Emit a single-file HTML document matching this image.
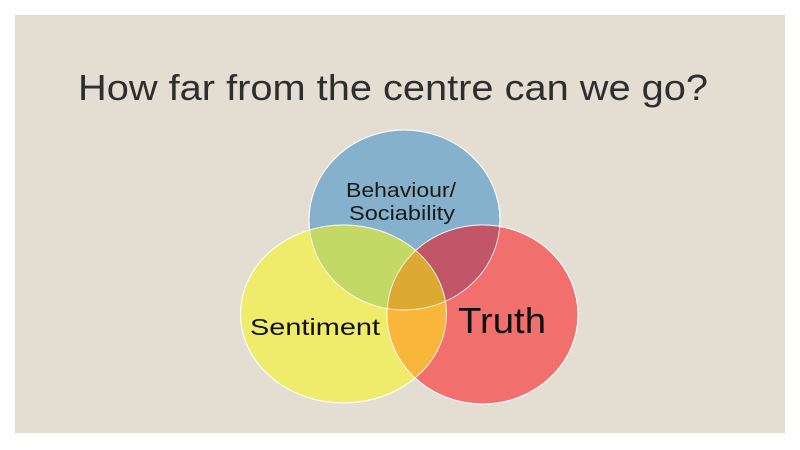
<!DOCTYPE html>
<html><head><meta charset="utf-8"><style>
html,body{margin:0;padding:0;background:#fff;width:800px;height:450px;overflow:hidden}
</style></head><body>
<svg width="800" height="450" xmlns="http://www.w3.org/2000/svg" font-family="Liberation Sans, sans-serif">
<defs>
<clipPath id="cb"><ellipse cx="404.5" cy="220" rx="95.5" ry="90"/></clipPath>
<clipPath id="cy"><ellipse cx="343.5" cy="314" rx="103" ry="89"/></clipPath>
<clipPath id="cr"><ellipse cx="482.5" cy="314.5" rx="95.5" ry="89.5"/></clipPath>
</defs>
<rect x="15" y="15" width="770" height="418" fill="#E3DDD2"/>
<text x="78" y="100" font-size="36" fill="#2e2e2e" textLength="630" lengthAdjust="spacingAndGlyphs">How far from the centre can we go?</text>
<ellipse cx="404.5" cy="220" rx="95.5" ry="90" fill="#85B1CC" stroke="#fff" stroke-width="1"/>
<ellipse cx="343.5" cy="314" rx="103" ry="89" fill="#F0EC6B" stroke="#fff" stroke-width="1"/>
<ellipse cx="482.5" cy="314.5" rx="95.5" ry="89.5" fill="#F16F6C" stroke="#fff" stroke-width="1"/>
<g clip-path="url(#cb)"><ellipse cx="343.5" cy="314" rx="103" ry="89" fill="#C4D866"/>
<ellipse cx="482.5" cy="314.5" rx="95.5" ry="89.5" fill="#C05667"/></g>
<g clip-path="url(#cy)"><ellipse cx="482.5" cy="314.5" rx="95.5" ry="89.5" fill="#F8B63A"/>
<g clip-path="url(#cb)"><ellipse cx="482.5" cy="314.5" rx="95.5" ry="89.5" fill="#DCA933"/></g></g>
<g fill="none" stroke="#fff" stroke-width="1" opacity="0.8">
<ellipse cx="404.5" cy="220" rx="95.5" ry="90"/>
<ellipse cx="343.5" cy="314" rx="103" ry="89"/>
<ellipse cx="482.5" cy="314.5" rx="95.5" ry="89.5"/>
</g>
<text x="346" y="197" font-size="20" fill="#1a1a1a" textLength="110" lengthAdjust="spacingAndGlyphs">Behaviour/</text>
<text x="349" y="220" font-size="20" fill="#1a1a1a" textLength="106" lengthAdjust="spacingAndGlyphs">Sociability</text>
<text x="250" y="335" font-size="23" fill="#111" textLength="130" lengthAdjust="spacingAndGlyphs">Sentiment</text>
<text x="458" y="333" font-size="36" fill="#111" textLength="88" lengthAdjust="spacingAndGlyphs">Truth</text>
</svg>
</body></html>
